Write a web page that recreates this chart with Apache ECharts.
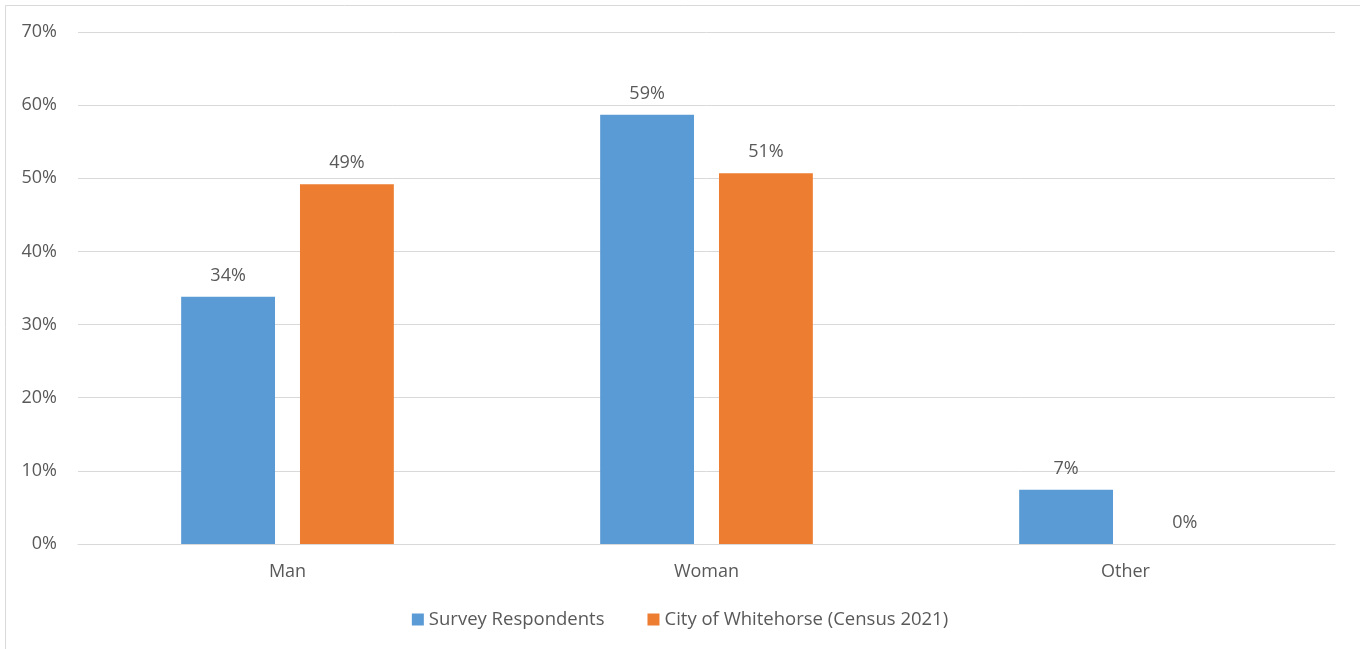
<!DOCTYPE html>
<html>
<head>
<meta charset="utf-8">
<script src="https://cdn.jsdelivr.net/npm/echarts@6/dist/echarts.min.js"></script>
<style>
  html, body { margin: 0; padding: 0; background: #fff; }
  #chart { width: 1360px; height: 649px; }
</style>
</head>
<body>
<div id="chart"></div>
<script>
// Gender breakdown: survey respondents vs. 2021 census population
const categories = ['Man', 'Woman', 'Other'];
const surveyRespondents = [33.8, 58.7, 7.4];
const censusWhitehorse = [49.2, 50.7, 0];
const seriesNames = ['Survey Respondents', 'City of Whitehorse (Census 2021)'];
const yTicks = { min: 0, max: 70, interval: 10 };

const textColor = '#595959';
const gridColor = '#d9d9d9';
const fontFamily = '"Open Sans", "Liberation Sans", sans-serif';

const chart = echarts.init(document.getElementById('chart'), null, { renderer: 'canvas' });

const labelOpt = {
  show: true,
  position: 'top',
  distance: 12,
  color: textColor,
  fontSize: 18,
  fontFamily: fontFamily,
  formatter: p => Math.round(p.value) + '%'
};

chart.setOption({
  animation: false,
  backgroundColor: '#fff',
  graphic: [{
    type: 'rect',
    shape: { x: 5.5, y: 5.5, width: 1400, height: 700 },
    style: { fill: 'none', stroke: '#d9d9d9', lineWidth: 1 },
    silent: true,
    z: -1
  }],
  grid: { left: 78, right: 25, top: 32, bottom: 105, containLabel: false },
  legend: {
    data: seriesNames,
    bottom: 15,
    left: 'center',
    itemWidth: 12,
    itemHeight: 12,
    itemGap: 43,
    icon: 'rect',
    textStyle: { color: textColor, fontSize: 18.5, fontFamily: fontFamily }
  },
  xAxis: {
    type: 'category',
    data: categories,
    axisLine: { show: true, lineStyle: { color: gridColor, width: 1 } },
    axisTick: { show: false },
    axisLabel: { color: textColor, fontSize: 18, fontFamily: fontFamily, margin: 19 }
  },
  yAxis: {
    type: 'value',
    min: yTicks.min,
    max: yTicks.max,
    interval: yTicks.interval,
    axisLine: { show: false },
    axisTick: { show: false },
    splitLine: { lineStyle: { color: gridColor, width: 1 } },
    axisLabel: {
      color: textColor, fontSize: 18, fontFamily: fontFamily, margin: 21,
      formatter: v => v + '%'
    }
  },
  series: [
    {
      name: seriesNames[0],
      type: 'bar',
      data: surveyRespondents,
      barWidth: '22.4%',
      barGap: '26.6%',
      itemStyle: { color: '#5b9bd5' },
      label: labelOpt
    },
    {
      name: seriesNames[1],
      type: 'bar',
      data: censusWhitehorse,
      barWidth: '22.4%',
      itemStyle: { color: '#ed7d31' },
      label: labelOpt
    }
  ]
});
</script>
</body>
</html>
